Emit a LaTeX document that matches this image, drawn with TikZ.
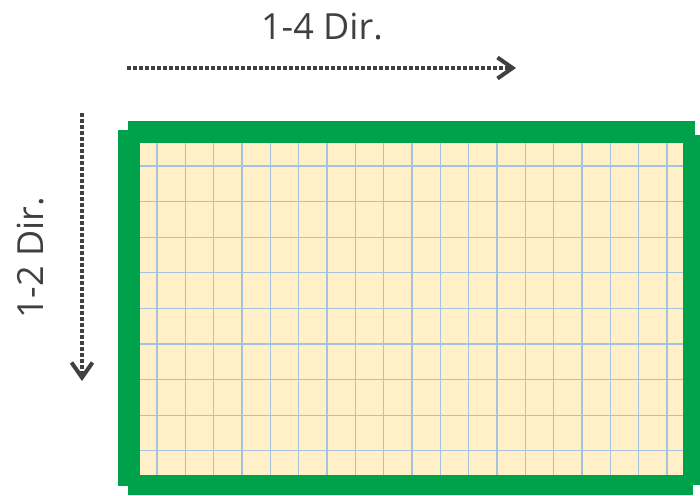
\documentclass[tikz,border=0pt]{standalone}
\usepackage{fontspec}
\setmainfont{Open Sans}
\usepackage{xcolor}
\usetikzlibrary{arrows.meta,positioning}
\definecolor{framegreen}{HTML}{00A14B}
\definecolor{cream}{HTML}{FFF0C8}
\definecolor{gridblue}{HTML}{A3C3E0}
\definecolor{arrowgray}{HTML}{404040}
\tikzset{
  dirarrow/.style={-{Straight Barb[length=15pt, width=21pt, line width=4pt]}, line width=3.6pt, dash pattern=on 3.8pt off 2.2pt, draw=arrowgray},
  dirlabel/.style={font=\fontsize{36}{40}\selectfont, text=arrowgray, inner sep=0pt},
  gridline/.style={draw=gridblue, line width=1.3pt},
  strip/.style={fill=framegreen}
}

\begin{document}
\begin{tikzpicture}[x=1pt, y=-1pt]
  \useasboundingbox (0,0) rectangle (700,495);

  % sheet and grid
  \fill[cream] (140,143) rectangle (683,475);
  \foreach \k in {0,...,18}
    \draw[gridline] ({157+28.33*\k},143) -- ({157+28.33*\k},475);
  \foreach \k in {0,...,8}
    \draw[gridline] (140,{166+35.6*\k}) -- (683,{166+35.6*\k});

  % frame
  \fill[strip] (128,121) rectangle (695,143);
  \fill[strip] (128,475) rectangle (693,495);
  \fill[strip] (118,130) rectangle (140,486);
  \fill[strip] (683,135) rectangle (700,485);

  % directions
  \coordinate (hstart) at (127,68);
  \coordinate (hend) at (516,68);
  \coordinate (vstart) at (82,113);
  \coordinate (vend) at (82,381);
  \node[dirlabel] (hlabel) at (322,27) {1-4 Dir.};
  \node[dirlabel, rotate=90] (vlabel) at (31,258) {1-2 Dir.};
  \draw[dirarrow] (hstart) -- (hend);
  \draw[dirarrow] (vstart) -- (vend);
\end{tikzpicture}
\end{document}
